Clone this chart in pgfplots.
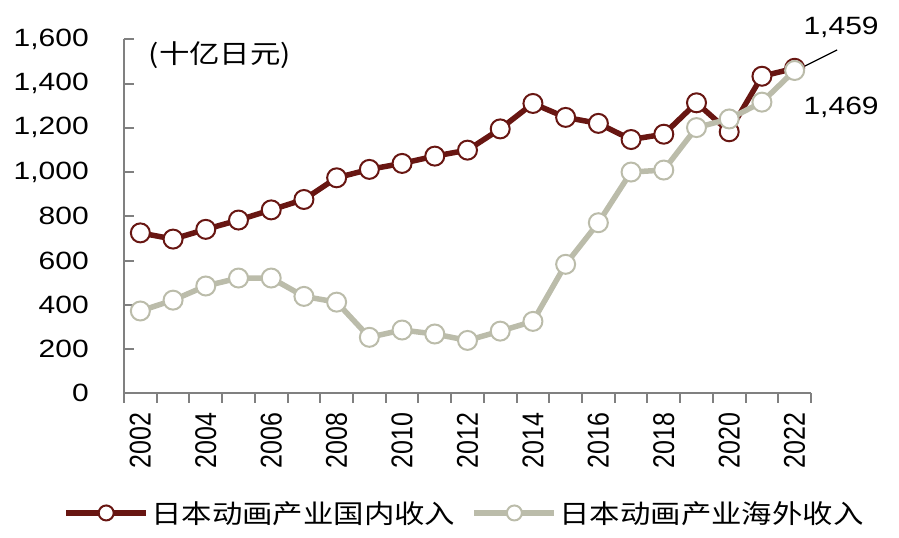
\documentclass[border=0pt]{standalone}
\usepackage{fontspec}
\setmainfont{Liberation Sans}[FakeStretch=1.2]
\newfontfamily\cjk{Noto Sans CJK SC}[FakeStretch=1.17]
\newfontfamily\rotfont{Liberation Sans}[FakeStretch=0.833]
\usepackage{pgfplots}
\pgfplotsset{compat=1.18}
\definecolor{dom}{RGB}{104,22,18}
\definecolor{ovs}{RGB}{187,188,170}
\definecolor{axg}{RGB}{128,128,128}
\begin{document}
\begin{tikzpicture}
\path (-124bp,-144.7bp) rectangle (775bp,393.3bp);
\begin{axis}[
  scale only axis, width=687bp, height=354bp,
  at={(0,0)}, anchor=south west,
  xmin=2001.5, xmax=2022.5, ymin=0, ymax=1600,
  axis x line=bottom, axis y line=left,
  axis line style={draw=axg, line width=2bp, -},
  clip=false,
  ytick={0,200,...,1600},
  xtick={2002,2004,...,2022},
  xticklabels={2002,2004,2006,2008,2010,2012,2014,2016,2018,2020,2022},
  minor xtick={2001.5,2002.5,...,2022.5},
  tick align=inside, major tick length=10bp, minor tick length=-10bp,
  tick style={draw=axg, line width=2bp},
  every major x tick/.append style={draw=none},
  /pgf/number format/assume math mode=true,
  yticklabel style={font=\fontsize{25bp}{30bp}\selectfont, inner sep=0pt, anchor=east},
  yticklabel shift=35bp,
  xticklabel style={font=\rotfont\fontsize{30bp}{36bp}\selectfont, inner sep=0pt, rotate=90, anchor=east},
  xticklabel shift=19bp,
  legend style={at={(-0.0888,-0.338)}, anchor=west, draw=none, fill=none, inner sep=0pt,
    font=\cjk\fontsize{26bp}{31bp}\selectfont, legend columns=2,
    /tikz/every even column/.append style={column sep=14bp}},
  legend cell align=left,
  legend image code/.code={
    \draw[#1, line width=6bp] (0bp,0bp) -- (80bp,0bp);
    \draw[#1, line width=2bp, fill=white] (40bp,0bp) circle (7.5bp);
  },
]
\addplot[dom, line width=5.5bp, mark=*, mark size=9.5bp, mark options={fill=white, draw=dom, line width=2bp}]
coordinates {(2002,725)(2003,697)(2004,741)(2005,783)(2006,829)(2007,876)(2008,974)(2009,1012)(2010,1039)(2011,1072)(2012,1099)(2013,1195)(2014,1310)(2015,1247)(2016,1220)(2017,1147)(2018,1171)(2019,1313)(2020,1182)(2021,1433)(2022,1469)};
\addlegendentry{日本动画产业国内收入}
\addplot[ovs, line width=5.5bp, mark=*, mark size=9.5bp, mark options={fill=white, draw=ovs, line width=2bp}]
coordinates {(2002,372)(2003,421)(2004,485)(2005,521)(2006,521)(2007,438)(2008,412)(2009,253)(2010,286)(2011,268)(2012,239)(2013,281)(2014,325)(2015,583)(2016,771)(2017,1000)(2018,1009)(2019,1201)(2020,1240)(2021,1316)(2022,1459)};
\addlegendentry{日本动画产业海外收入}
\node[font=\cjk\fontsize{26bp}{31bp}\selectfont] at (axis cs:2004.43,1529) {(十亿日元)};
\node[font=\fontsize{25bp}{30bp}\selectfont] at (axis cs:2023.42,1655) {1,459};
\node[font=\fontsize{25bp}{30bp}\selectfont] at (axis cs:2023.42,1294) {1,469};
\draw[black, line width=1.3bp] (axis cs:2023.30,1552) -- (axis cs:2022.07,1461);
\end{axis}
\end{tikzpicture}
\end{document}
